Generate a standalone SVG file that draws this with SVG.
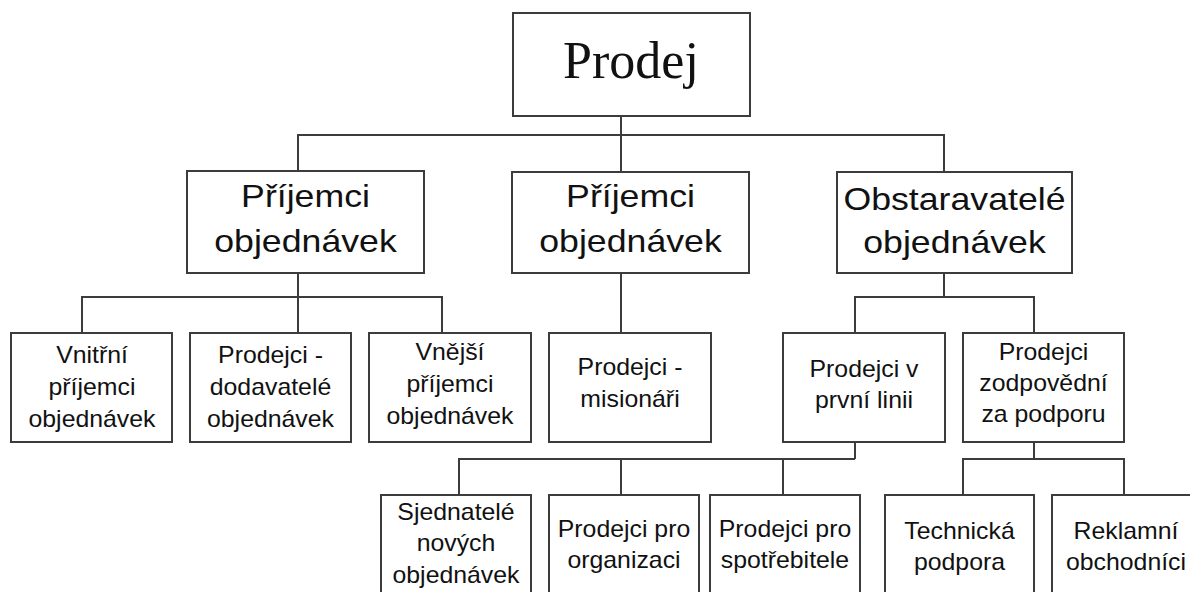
<svg xmlns="http://www.w3.org/2000/svg" width="1190" height="592" viewBox="0 0 1190 592">
<style>
.box{fill:#fff;stroke:#3c3c3c;stroke-width:2}
.ln{fill:none;stroke:#3c3c3c;stroke-width:2}
.t1{font-family:"Liberation Serif",serif;font-size:52px;fill:#111;text-anchor:middle}
.t2{font-family:"Liberation Sans",Arial,sans-serif;font-size:30.5px;fill:#111;text-anchor:middle}
.t3{font-family:"Liberation Sans",Arial,sans-serif;font-size:23px;fill:#111;text-anchor:middle}
</style>
<rect width="1190" height="592" fill="#fff"/>
<g id="connectors" class="ln">
<path d="M621,116V172M298,171V135H944V172"/>
<path d="M298,273V297M82,333V297H442V333M298,297V333"/>
<path d="M621,273V333"/>
<path d="M944,273V297M855,333V297H1034V333"/>
<path d="M855,442V459M459,495V459H855M621,459V495M783,459V495"/>
<path d="M1034,442V459M963,495V459H1124V495"/>
</g>
<g id="n-prodej"><rect class="box" x="513" y="13" width="237" height="103"/><text class="t1" x="631" y="78">Prodej</text></g>
<g id="n-prijemci1"><rect class="box" x="187" y="171" width="237" height="102"/><text class="t2" transform="translate(305.5,0) scale(1.17,1)"><tspan x="0" y="207">Příjemci</tspan><tspan x="0" y="252">objednávek</tspan></text></g>
<g id="n-prijemci2"><rect class="box" x="512" y="172" width="237" height="101"/><text class="t2" transform="translate(630.5,0) scale(1.17,1)"><tspan x="0" y="207">Příjemci</tspan><tspan x="0" y="252">objednávek</tspan></text></g>
<g id="n-obstaravatele"><rect class="box" x="837" y="172" width="235" height="101"/><text class="t2" transform="translate(954.5,0) scale(1.17,1)"><tspan x="0" y="210">Obstaravatelé</tspan><tspan x="0" y="253">objednávek</tspan></text></g>
<g id="n-vnitrni"><rect class="box" x="11" y="333" width="161" height="109"/><text class="t3" transform="translate(92,0) scale(1.08,1)"><tspan x="0" y="363">Vnitřní</tspan><tspan x="0" y="395">příjemci</tspan><tspan x="0" y="427">objednávek</tspan></text></g>
<g id="n-dodavatele"><rect class="box" x="190" y="333" width="161" height="109"/><text class="t3" transform="translate(270.5,0) scale(1.08,1)"><tspan x="0" y="363">Prodejci -</tspan><tspan x="0" y="395">dodavatelé</tspan><tspan x="0" y="427">objednávek</tspan></text></g>
<g id="n-vnejsi"><rect class="box" x="369" y="333" width="162" height="109"/><text class="t3" transform="translate(450,0) scale(1.08,1)"><tspan x="0" y="360">Vnější</tspan><tspan x="0" y="392">příjemci</tspan><tspan x="0" y="424">objednávek</tspan></text></g>
<g id="n-misionari"><rect class="box" x="549" y="333" width="162" height="109"/><text class="t3" transform="translate(630,0) scale(1.08,1)"><tspan x="0" y="375">Prodejci -</tspan><tspan x="0" y="407">misionáři</tspan></text></g>
<g id="n-prvni"><rect class="box" x="783" y="333" width="162" height="109"/><text class="t3" transform="translate(864,0) scale(1.08,1)"><tspan x="0" y="377">Prodejci v</tspan><tspan x="0" y="408">první linii</tspan></text></g>
<g id="n-podpora"><rect class="box" x="963" y="333" width="161" height="109"/><text class="t3" transform="translate(1043.5,0) scale(1.08,1)"><tspan x="0" y="360">Prodejci</tspan><tspan x="0" y="391">zodpovědní</tspan><tspan x="0" y="422">za podporu</tspan></text></g>
<g id="n-sjednatele"><rect class="box" x="381" y="495" width="150" height="110"/><text class="t3" transform="translate(456,0) scale(1.08,1)"><tspan x="0" y="520">Sjednatelé</tspan><tspan x="0" y="551">nových</tspan><tspan x="0" y="583">objednávek</tspan></text></g>
<g id="n-organizaci"><rect class="box" x="549" y="495" width="150" height="110"/><text class="t3" transform="translate(624,0) scale(1.08,1)"><tspan x="0" y="537">Prodejci pro</tspan><tspan x="0" y="568">organizaci</tspan></text></g>
<g id="n-spotrebitele"><rect class="box" x="710" y="495" width="150" height="110"/><text class="t3" transform="translate(785,0) scale(1.08,1)"><tspan x="0" y="537">Prodejci pro</tspan><tspan x="0" y="568">spotřebitele</tspan></text></g>
<g id="n-technicka"><rect class="box" x="885" y="495" width="149" height="110"/><text class="t3" transform="translate(959.5,0) scale(1.08,1)"><tspan x="0" y="539">Technická</tspan><tspan x="0" y="570">podpora</tspan></text></g>
<g id="n-reklamni"><rect class="box" x="1052" y="495" width="146" height="110"/><text class="t3" transform="translate(1126,0) scale(1.08,1)"><tspan x="0" y="539">Reklamní</tspan><tspan x="0" y="570">obchodníci</tspan></text></g>
</svg>
